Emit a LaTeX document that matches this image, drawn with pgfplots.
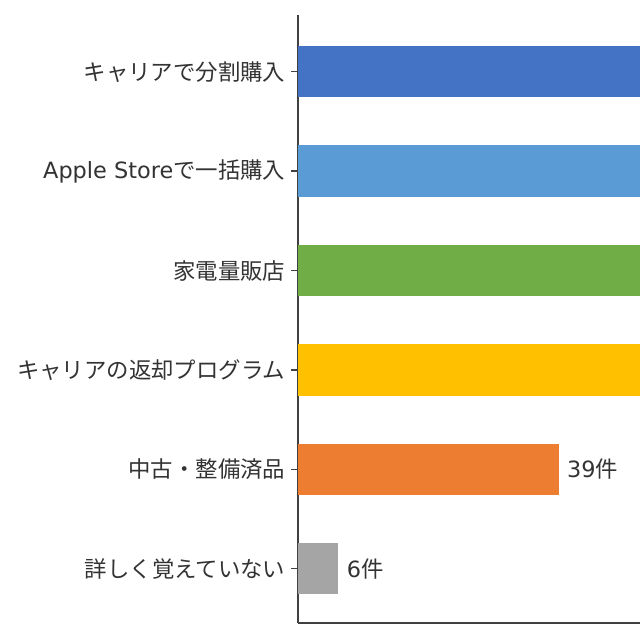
\documentclass[border=0pt]{standalone}
\usepackage{pgfplots}
\pgfplotsset{compat=1.18}
\usepackage{fontspec}
\setmainfont{Noto Sans CJK JP}
\newfontfamily\latinfont{DejaVu Sans}
\definecolor{cBlue}{HTML}{4472C4}
\definecolor{cLight}{HTML}{5B9BD5}
\definecolor{cGreen}{HTML}{70AD47}
\definecolor{cYellow}{HTML}{FFC000}
\definecolor{cOrange}{HTML}{ED7D31}
\definecolor{cGray}{HTML}{A5A5A5}
\definecolor{txt}{HTML}{333333}
\definecolor{axl}{HTML}{404040}
\begin{document}
\begin{tikzpicture}
  \useasboundingbox (0,0) rectangle (480pt,480pt);
  \begin{axis}[
      scale only axis,
      anchor=south west,
      at={(223.5pt,12.75pt)},
      width=256.5pt, height=456pt,
      axis lines*=left,
      axis line style={axl, line width=1.2pt},
      xmin=0, xmax=51.2,
      ymin=-0.545, ymax=5.57,
      xtick=\empty,
      ytick={0,1,2,3,4,5},
      yticklabels={詳しく覚えていない,中古・整備済品,キャリアの返却プログラム,家電量販店,{\latinfont Apple Store}で一括購入,キャリアで分割購入},
      ytick pos=left,
      tick align=outside,
      major tick length=5pt,
      tick style={axl, line width=0.9pt},
      yticklabel style={font=\fontsize{16.8}{20}\selectfont, text=txt, xshift=-1pt},
      xbar, bar shift=0pt, bar width=0.515,
      nodes near coords={\pgfplotspointmeta},
      point meta=explicit symbolic,
      nodes near coords style={font=\fontsize{16.8}{20}\selectfont, text=txt, anchor=west, xshift=3pt},
      grid=none,
    ]
    \addplot[fill=cBlue, draw=none] coordinates {(120,5) [120件]};
    \addplot[fill=cLight, draw=none] coordinates {(95,4) [95件]};
    \addplot[fill=cGreen, draw=none] coordinates {(75,3) [75件]};
    \addplot[fill=cYellow, draw=none] coordinates {(62,2) [62件]};
    \addplot[fill=cOrange, draw=none] coordinates {(39,1) [{\latinfont 39}件]};
    \addplot[fill=cGray, draw=none] coordinates {(6,0) [{\latinfont 6}件]};
  \end{axis}
\end{tikzpicture}
\end{document}
